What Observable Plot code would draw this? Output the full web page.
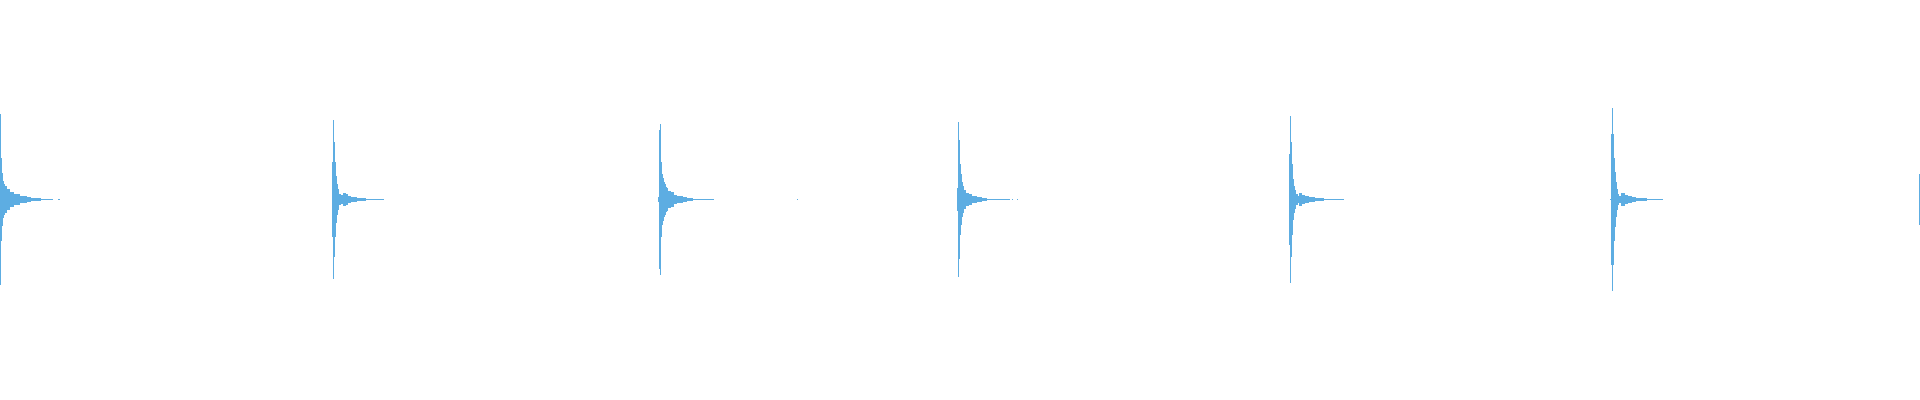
<!DOCTYPE html>
<html><head><meta charset="utf-8">
<script src="https://cdn.jsdelivr.net/npm/d3@7"></script>
<script src="https://cdn.jsdelivr.net/npm/@observablehq/plot@0.6"></script>
<style>body{margin:0;background:#fff}#chart{width:1920px;height:400px}</style>
</head><body><div id="chart"></div>
<script>
// Onset time of each hit (seconds) on a 4.8 s timeline
const hitOnsets = [0, 0.8293, 1.645, 2.3918, 3.2218, 4.0258, 4.7975];

// Envelope of each hit: [offset from onset in ms, peak amplitude]; amplitude 0 = silence, null = end
const hit1 = [[0,.43],[2.5,.21],[5,.135],[7.5,.093],[10,.078],[12.5,.068],[17.5,.053],[25,.038],[35,.028],[50,.02],[67.5,.013],[77.5,.008],[102.5,.0035],[132.5,0],[145,.003],[150,null]];
const hit2 = [[0,.19],[3.25,.40],[5.75,.29],[8.25,.19],[10.75,.12],[13.25,.08],[15.75,.055],[18.25,.03],[23.25,.025],[28.25,.033],[35.75,.027],[41.75,.02],[48.25,.013],[62.5,.009],[72.5,.007],[85,.004],[105,.0025],[130,null]];
const hit3 = [[0,.013],[2.5,.35],[5,.38],[7.5,.19],[10,.13],[12.5,.11],[15,.09],[17.5,.078],[20,.063],[22.5,.057],[25.75,.045],[32.5,.036],[40,.024],[46.75,.018],[63.25,.012],[71.75,.009],[88.25,.005],[107.5,.0025],[140,0],[347.5,.003],[350,null]];
const hit4 = [[0,.06],[3.25,.39],[5.75,.30],[8.25,.18],[10.75,.13],[13.25,.09],[15.75,.067],[18.25,.046],[23.25,.035],[30.75,.027],[38.25,.019],[50,.012],[63.25,.009],[75,.005],[88.25,.003],[108.25,.0025],[133.25,0],[138.25,.003],[140.75,0],[150.75,.003],[153.25,null]];
const hit5 = [[0,.23],[3.25,.42],[5.75,.29],[8.25,.18],[10.75,.105],[13.25,.07],[15.75,.05],[18.25,.03],[23.25,.02],[25.75,.034],[33.25,.024],[40.75,.017],[50.75,.012],[65.75,.007],[88.25,.004],[102.5,.0025],[138.25,null]];
const hit6 = [[0,.003],[1.75,.33],[4.25,.46],[6.75,.33],[9.25,.21],[11.75,.14],[14.25,.087],[16.75,.052],[19.25,.03],[21.75,.02],[26.75,.034],[36.75,.025],[44.25,.018],[54.25,.013],[65,.009],[77.5,.006],[92.5,.004],[106.75,.0025],[131.75,null]];
const hit7 = [[0,.128],[2.5,null]];

const envelopes = [hit1, hit2, hit3, hit4, hit5, hit6, hit7];

const rows = [];
envelopes.forEach((env, i) => {
  for (let k = 0; k < env.length - 1; k++) {
    const [t0, a] = env[k];
    const [t1] = env[k + 1];
    if (!a) continue;
    rows.push({t1: hitOnsets[i] + t0 / 1000, t2: hitOnsets[i] + t1 / 1000, amp: a});
  }
});

const chart = Plot.plot({
  width: 1920,
  height: 400,
  marginTop: 0, marginRight: 0, marginLeft: 0, marginBottom: 1,
  x: {domain: [0, 4.8], axis: null},
  y: {domain: [-1, 1], axis: null},
  marks: [
    Plot.rect(rows, {x1: "t1", x2: "t2", y1: d => -d.amp, y2: d => d.amp, fill: "#5dade2", shapeRendering: "crispEdges"})
  ]
});
document.getElementById("chart").append(chart);
</script>
</body></html>
